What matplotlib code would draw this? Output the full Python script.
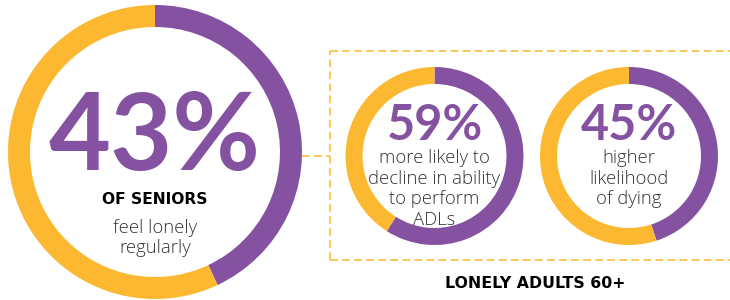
import matplotlib
matplotlib.use("Agg")
import matplotlib.pyplot as plt

purple = "#8452A1"
yellow = "#FBB830"
dash_col = "#FCC75A"

# ring values (share drawn purple, rest yellow)
labels = ["43%", "59%", "45%"]
values = [43, 59, 45]
captions = ["", "more likely to\ndecline in ability\nto perform\nADLs", "higher\nlikelihood\nof dying"]
big_head = "OF SENIORS"
big_caption = "feel lonely\nregularly"
group_title = "LONELY ADULTS 60+"

plt.rcParams['font.family'] = ['Lato', 'DejaVu Sans']

fig = plt.figure(figsize=(7.3, 3.0), dpi=100)
ax = fig.add_axes([0, 0, 1, 1])

centers = [(155, 148), (434.5, 144), (629, 144)]
radii = [147, 89, 89]
widths = [22, 17, 17]

for v, c, r, w in zip(values, centers, radii, widths):
    ax.pie([v, 100 - v], colors=[purple, yellow], startangle=90, counterclock=False,
           radius=r, center=c, wedgeprops=dict(width=w, linewidth=0))

# dashed box around the two small rings + connector
dash = dict(color=dash_col, lw=1.4, ls=(0, (4, 2.2)))
ax.plot([330, 735], [249, 249], **dash)
ax.plot([330, 735], [40, 40], **dash)
ax.plot([330, 330], [40, 249], **dash)
ax.plot([302, 330], [144, 144], **dash)

body = dict(fontsize=13.3, color="#333333", family=['Open Sans', 'DejaVu Sans'], fontweight="light",
            linespacing=1.18)
heavy = dict(color="black", fontweight="bold", family=['DejaVu Sans'])

# big ring text
ax.text(155, 161, labels[0], ha="center", va="center", fontsize=77, color=purple, fontweight="bold")
ax.text(155, 100, big_head, ha="center", va="center", fontsize=11.2, **heavy)
ax.text(155, 62, big_caption, ha="center", va="center", **body)

# small rings text
for lab, cap, c in zip(labels[1:], captions[1:], centers[1:]):
    ax.text(c[0], 175, lab, ha="center", va="center", fontsize=35, color=purple, fontweight="bold")
    ax.text(c[0], 151, cap, ha="center", va="top", **body)

ax.text(535, 17, group_title, ha="center", va="center", fontsize=11.3, **heavy)

ax.set_xlim(0, 730)
ax.set_ylim(0, 300)
ax.set_aspect("equal")
ax.axis("off")

fig.savefig("out.png", dpi=100, facecolor="white")
